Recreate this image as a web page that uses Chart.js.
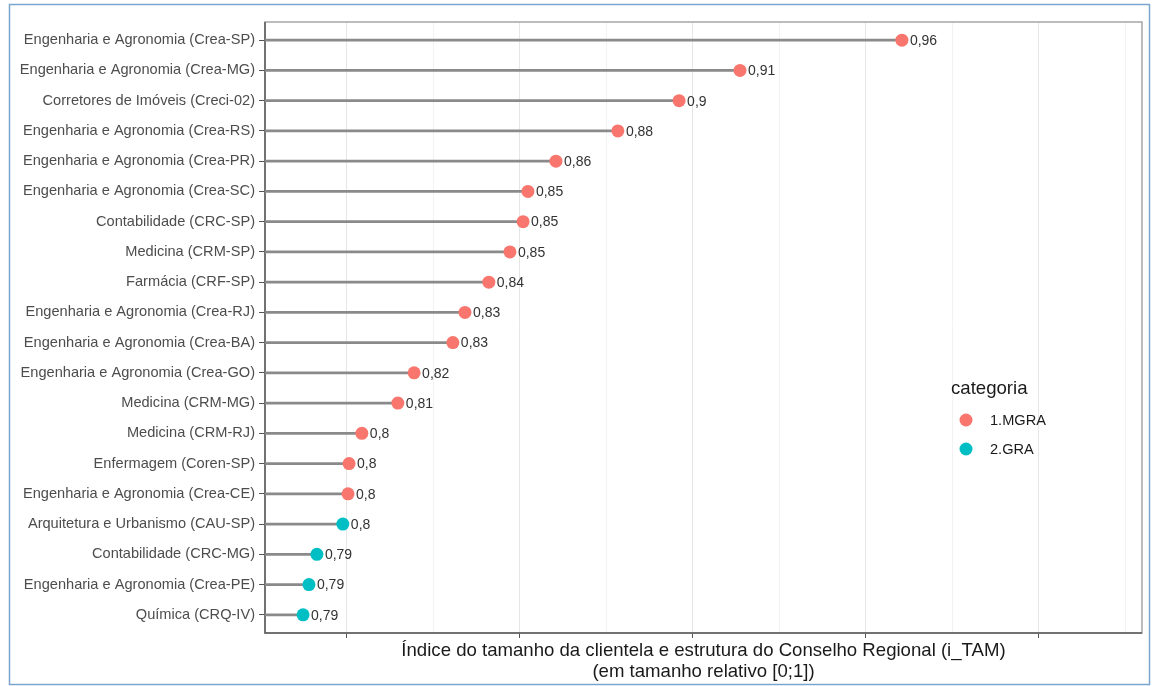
<!DOCTYPE html>
<html>
<head>
<meta charset="utf-8">
<title>i_TAM por Conselho Regional</title>
<script src="https://cdn.jsdelivr.net/npm/chart.js@4.4.0/dist/chart.umd.min.js"></script>
<style>
  html, body { margin: 0; padding: 0; background: #fff; }
  canvas { display: block; }
</style>
</head>
<body>
<canvas id="chart" width="1155" height="686"></canvas>
<script>
// Conselhos, ordered top to bottom
const categories = [
  'Engenharia e Agronomia (Crea-SP)',
  'Engenharia e Agronomia (Crea-MG)',
  'Corretores de Imóveis (Creci-02)',
  'Engenharia e Agronomia (Crea-RS)',
  'Engenharia e Agronomia (Crea-PR)',
  'Engenharia e Agronomia (Crea-SC)',
  'Contabilidade (CRC-SP)',
  'Medicina (CRM-SP)',
  'Farmácia (CRF-SP)',
  'Engenharia e Agronomia (Crea-RJ)',
  'Engenharia e Agronomia (Crea-BA)',
  'Engenharia e Agronomia (Crea-GO)',
  'Medicina (CRM-MG)',
  'Medicina (CRM-RJ)',
  'Enfermagem (Coren-SP)',
  'Engenharia e Agronomia (Crea-CE)',
  'Arquitetura e Urbanismo (CAU-SP)',
  'Contabilidade (CRC-MG)',
  'Engenharia e Agronomia (Crea-PE)',
  'Química (CRQ-IV)'
];

// i_TAM values
const values = [
  0.9604, 0.9136, 0.8960, 0.8783, 0.8604, 0.8523, 0.8509, 0.8471, 0.8410, 0.8341,
  0.8306, 0.8194, 0.8147, 0.8043, 0.8006, 0.8003, 0.7988, 0.7913, 0.7890, 0.7873
];

// categoria of each row
const groups = [
  '1.MGRA', '1.MGRA', '1.MGRA', '1.MGRA', '1.MGRA', '1.MGRA', '1.MGRA', '1.MGRA', '1.MGRA', '1.MGRA',
  '1.MGRA', '1.MGRA', '1.MGRA', '1.MGRA', '1.MGRA', '1.MGRA', '2.GRA', '2.GRA', '2.GRA', '2.GRA'
];

const legendTitle = 'categoria';
const groupNames = ['1.MGRA', '2.GRA'];
const groupColors = ['#F8766D', '#00BFC4'];

const xTitle = [
  'Índice do tamanho da clientela e estrutura do Conselho Regional (i_TAM)',
  '(em tamanho relativo [0;1])'
];

// x axis limits and grid steps (labels hidden, as in the original)
const X_MIN = 0.7763;
const X_MAX = 1.0298;
const X_STEP = 0.025;
const X_MAJOR = 0.05;

const FONT = "'Liberation Sans', Arial, sans-serif";

function isMajor(v) {
  return Math.abs(v / X_MAJOR - Math.round(v / X_MAJOR)) < 1e-6;
}

function fmt(v) {
  return String(Math.round(v * 100) / 100).replace('.', ',');
}

// one scatter dataset per categoria
const pointSets = groupNames.map((g, k) => ({
  type: 'scatter',
  label: g,
  order: 1,
  data: values.map((v, i) => ({ x: v, y: i })).filter((p, i) => groups[i] === g),
  backgroundColor: groupColors[k],
  borderWidth: 0,
  pointRadius: 6.5,
  pointHoverRadius: 6.5
}));

const stems = {
  type: 'bar',
  label: 'stems',
  order: 2,
  indexAxis: 'y',
  data: values.map((v, i) => ({ x: v, y: i })),
  base: X_MIN,
  barThickness: 2,
  backgroundColor: '#8a8a8a',
  borderWidth: 0
};

const decorPlugin = {
  id: 'decor',
  beforeDraw(chart) {
    const ctx = chart.ctx;
    ctx.save();
    ctx.fillStyle = '#fff';
    ctx.fillRect(0, 0, chart.width, chart.height);
    ctx.strokeStyle = '#7aa5cf';
    ctx.lineWidth = 1.5;
    ctx.strokeRect(9.5, 4.5, 1140, 680);
    ctx.restore();
  },
  beforeDatasetsDraw(chart) {
    const { ctx, chartArea: a } = chart;
    ctx.save();
    ctx.strokeStyle = '#a6a6a6';
    ctx.lineWidth = 1.5;
    ctx.strokeRect(a.left, a.top, a.right - a.left, a.bottom - a.top);
    ctx.strokeStyle = '#5a5a5a';
    ctx.beginPath();
    ctx.moveTo(a.left, a.top);
    ctx.lineTo(a.left, a.bottom);
    ctx.lineTo(a.right, a.bottom);
    ctx.stroke();
    ctx.restore();
  },
  afterDatasetsDraw(chart) {
    const { ctx, scales } = chart;
    ctx.save();
    ctx.font = '14px ' + FONT;
    ctx.fillStyle = '#333';
    ctx.textBaseline = 'middle';
    ctx.textAlign = 'left';
    values.forEach((v, i) => {
      ctx.fillText(fmt(v), scales.x.getPixelForValue(v) + 8, scales.y.getPixelForValue(i) + 1);
    });
    ctx.restore();
  },
  afterDraw(chart) {
    const { ctx, chartArea: a } = chart;
    ctx.save();
    // axis title
    ctx.fillStyle = '#1a1a1a';
    ctx.font = '18.6px ' + FONT;
    ctx.textAlign = 'center';
    ctx.textBaseline = 'middle';
    const cx = (a.left + a.right) / 2;
    ctx.fillText(xTitle[0], cx, 651);
    ctx.fillText(xTitle[1], cx, 672);
    // legend
    ctx.textAlign = 'left';
    ctx.fillText(legendTitle, 951, 389);
    ctx.font = '14.6px ' + FONT;
    groupNames.forEach((g, k) => {
      const y = 420 + k * 29;
      ctx.fillStyle = groupColors[k];
      ctx.beginPath();
      ctx.arc(966, y, 6.5, 0, Math.PI * 2);
      ctx.fill();
      ctx.fillStyle = '#1a1a1a';
      ctx.fillText(g, 990, y + 1);
    });
    ctx.restore();
  }
};

new Chart(document.getElementById('chart'), {
  data: { datasets: [...pointSets, stems] },
  options: {
    responsive: false,
    animation: false,
    events: [],
    layout: { padding: { left: 0, right: 13, top: 22, bottom: 0 } },
    plugins: {
      legend: { display: false },
      tooltip: { enabled: false }
    },
    scales: {
      x: {
        type: 'linear',
        offset: false,
        min: X_MIN,
        max: X_MAX,
        border: { display: false },
        afterFit(axis) { axis.height = 53; },
        ticks: {
          stepSize: X_STEP,
          includeBounds: false,
          autoSkip: false,
          callback: () => ''
        },
        grid: {
          offset: false,
          color: c => isMajor(c.tick.value) ? '#e6e6e6' : '#f2f2f2',
          lineWidth: 1,
          tickColor: c => isMajor(c.tick.value) ? '#555' : 'rgba(0,0,0,0)',
          tickLength: 5,
          drawTicks: true
        }
      },
      y: {
        type: 'linear',
        offset: false,
        reverse: true,
        min: -0.6,
        max: categories.length - 0.4,
        border: { display: false },
        afterFit(axis) { axis.width = 265; },
        ticks: {
          stepSize: 1,
          includeBounds: false,
          autoSkip: false,
          padding: 4,
          color: '#4d4d4d',
          font: { family: FONT, size: 14.6 },
          callback: v => categories[v] ?? ''
        },
        grid: {
          offset: false,
          drawOnChartArea: false,
          color: 'rgba(0,0,0,0)',
          tickColor: '#555',
          tickLength: 6
        }
      }
    }
  },
  plugins: [decorPlugin]
});
</script>
</body>
</html>
